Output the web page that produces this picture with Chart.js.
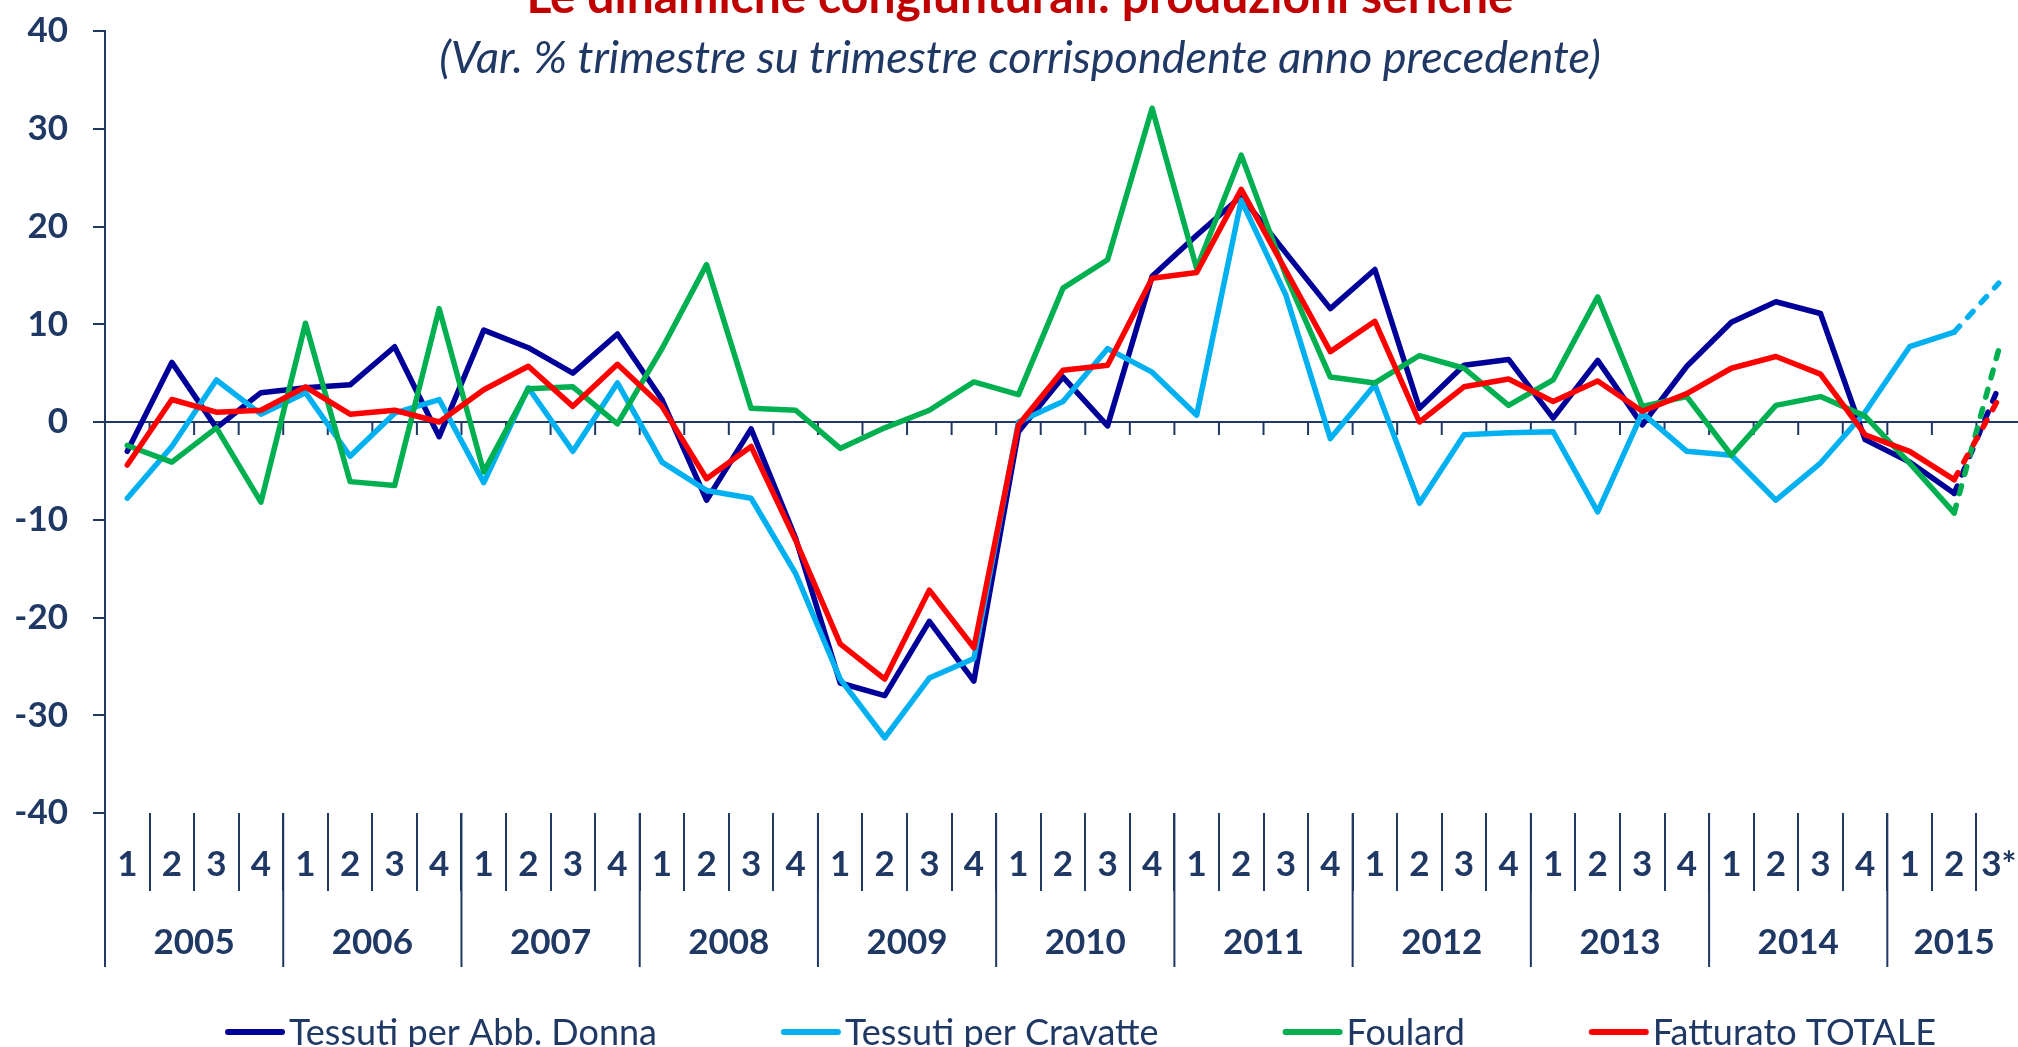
<!DOCTYPE html>
<html>
<head>
<meta charset="utf-8">
<script src="https://cdn.jsdelivr.net/npm/chart.js@4.4.1/dist/chart.umd.min.js"></script>
<style>
  html, body { margin: 0; padding: 0; background: #fff; overflow: hidden; }
  #wrap { position: absolute; left: 0; top: 0; width: 2030px; height: 1070px; }
</style>
</head>
<body>
<div id="wrap"><canvas id="chart" width="2030" height="1070"></canvas></div>
<script>
// quarters 2005 Q1 .. 2015 Q3 (last one is an estimate, marked *)
const quarters = [
  "1","2","3","4", "1","2","3","4", "1","2","3","4", "1","2","3","4",
  "1","2","3","4", "1","2","3","4", "1","2","3","4", "1","2","3","4",
  "1","2","3","4", "1","2","3","4", "1","2","3*"
];
const years = ["2005","2006","2007","2008","2009","2010","2011","2012","2013","2014","2015"];

const abbDonna = [
  -3.0, 6.1, -0.6, 3.0,   3.5, 3.8, 7.7, -1.5,   9.4, 7.6, 5.0, 9.0,
  2.3, -8.0, -0.7, -11.9, -26.7, -28.0, -20.4, -26.5, -1.0, 4.6, -0.4, 14.9,
  19.1, 23.1, 17.3, 11.6, 15.6, 1.4, 5.8, 6.4,   0.4, 6.3, -0.3, 5.7,
  10.2, 12.3, 11.1, -1.8, -4.1, -7.3, 3.6
];
const cravatte = [
  -7.8, -2.5, 4.3, 0.8,   3.0, -3.5, 0.9, 2.3,   -6.2, 3.5, -3.0, 4.0,
  -4.1, -7.0, -7.8, -15.5, -26.3, -32.3, -26.2, -24.2, 0.0, 2.1, 7.5, 5.1,
  0.7, 22.7, 13.0, -1.7,  3.8, -8.3, -1.3, -1.1,  -1.0, -9.2, 0.9, -3.0,
  -3.4, -8.0, -4.2, 1.0,  7.7, 9.2, 14.2
];
const foulard = [
  -2.4, -4.1, -0.6, -8.2,  10.1, -6.1, -6.5, 11.6,  -5.1, 3.4, 3.6, -0.2,
  7.5, 16.1, 1.4, 1.2,    -2.7, -0.6, 1.2, 4.1,    2.8, 13.7, 16.6, 32.1,
  15.7, 27.3, 15.0, 4.6,  4.0, 6.8, 5.5, 1.7,      4.3, 12.8, 1.6, 2.6,
  -3.4, 1.7, 2.6, 0.6,    -4.2, -9.3, 7.4
];
const fatturato = [
  -4.4, 2.3, 1.0, 1.2,    3.6, 0.8, 1.2, 0.0,     3.3, 5.7, 1.6, 5.9,
  1.6, -5.8, -2.5, -12.1, -22.7, -26.3, -17.2, -23.1, -0.3, 5.3, 5.8, 14.7,
  15.3, 23.8, 15.5, 7.2,  10.3, 0.0, 3.6, 4.4,     2.1, 4.2, 1.1, 2.9,
  5.5, 6.7, 4.9, -1.3,    -3.0, -5.9, 2.4
];

const navyText = "#1F3864";
const lastIdx = quarters.length - 1;

// last segment (estimate) is dashed
const dashLast = ctx => ctx.p1DataIndex === lastIdx ? [8, 12] : undefined;

function lineDs(label, data, color, order) {
  return {
    label, data, order,
    borderColor: color,
    backgroundColor: color,
    borderWidth: 5.5,
    borderCapStyle: "round",
    borderJoinStyle: "round",
    pointRadius: 0,
    tension: 0,
    segment: { borderDash: dashLast }
  };
}

// title, subtitle, zero-line ticks, year row and legend
const decor = {
  id: "decor",
  beforeDatasetsDraw(chart) {
    const { ctx, scales: { x, y } } = chart;
    const step = x.getPixelForValue(1) - x.getPixelForValue(0);
    const edge = i => x.getPixelForValue(0) - step / 2 + i * step;
    const y0 = y.getPixelForValue(0);
    ctx.save();
    ctx.strokeStyle = navyText;
    ctx.lineWidth = 2;
    ctx.beginPath();
    for (let i = 0; i <= quarters.length; i++) {
      ctx.moveTo(edge(i), y0);
      ctx.lineTo(edge(i), y0 + 13);
    }
    ctx.stroke();
    ctx.restore();
  },
  afterDraw(chart) {
    const { ctx, chartArea, scales: { x } } = chart;
    const step = x.getPixelForValue(1) - x.getPixelForValue(0);
    const edge = i => x.getPixelForValue(0) - step / 2 + i * step;

    ctx.save();
    // year separators + labels
    const starts = [];
    quarters.forEach((q, i) => { if (q === "1") starts.push(i); });
    starts.push(quarters.length);
    ctx.strokeStyle = navyText;
    ctx.lineWidth = 2;
    ctx.beginPath();
    starts.forEach(i => {
      ctx.moveTo(edge(i), chartArea.bottom);
      ctx.lineTo(edge(i), chartArea.bottom + 154);
    });
    ctx.stroke();
    ctx.fillStyle = navyText;
    ctx.font = "bold 35px Lato";
    ctx.textAlign = "center";
    ctx.textBaseline = "alphabetic";
    years.forEach((yr, k) => {
      const cx = (edge(starts[k]) + edge(starts[k + 1])) / 2;
      ctx.fillText(yr, cx, chartArea.bottom + 141);
    });

    // title (cut at the top of the page) and subtitle
    ctx.fillStyle = "#C00000";
    ctx.font = "bold 48px Lato";
    ctx.fillText("Le dinamiche congiunturali: produzioni seriche", 1020, 13);
    ctx.fillStyle = navyText;
    ctx.font = "italic 45px Lato";
    ctx.fillText("(Var. % trimestre su trimestre corrispondente anno precedente)", 1020, 73);

    // legend
    ctx.font = "36px Lato";
    ctx.textAlign = "left";
    let lx = 225;
    const ly = 1032;
    chart.data.datasets.forEach(ds => {
      ctx.strokeStyle = ds.borderColor;
      ctx.lineWidth = 6;
      ctx.lineCap = "round";
      ctx.beginPath();
      ctx.moveTo(lx + 3, ly);
      ctx.lineTo(lx + 57, ly);
      ctx.stroke();
      ctx.fillStyle = navyText;
      ctx.fillText(ds.label, lx + 64, ly + 13);
      lx += 64 + ctx.measureText(ds.label).width + 124;
    });
    ctx.restore();
  }
};

Chart.defaults.font.family = "Lato";

new Chart(document.getElementById("chart"), {
  type: "line",
  data: {
    labels: quarters,
    datasets: [
      lineDs("Tessuti per Abb. Donna", abbDonna, "#000099", 4),
      lineDs("Tessuti per Cravatte", cravatte, "#00B0F0", 3),
      lineDs("Foulard", foulard, "#00B050", 2),
      lineDs("Fatturato TOTALE", fatturato, "#FF0000", 1)
    ]
  },
  options: {
    responsive: false,
    animation: false,
    layout: { padding: { left: 0, right: 9, top: 31, bottom: 97 } },
    plugins: {
      legend: { display: false },
      title: { display: false },
      tooltip: { enabled: false }
    },
    scales: {
      x: {
        type: "category",
        offset: true,
        border: { display: false },
        grid: {
          offset: true,
          drawOnChartArea: false,
          drawTicks: true,
          tickLength: 78,
          color: navyText,
          lineWidth: 2
        },
        ticks: {
          color: navyText,
          font: { size: 35, weight: "bold" },
          padding: -47,
          maxRotation: 0,
          autoSkip: false
        },
        afterFit: s => { s.height = 160; }
      },
      y: {
        min: -40,
        max: 40,
        border: { color: navyText, width: 2 },
        grid: {
          color: c => c.tick.value === 0 ? navyText : "transparent",
          tickColor: navyText,
          tickLength: 12,
          lineWidth: 2
        },
        ticks: {
          stepSize: 10,
          color: navyText,
          font: { size: 35, weight: "bold" },
          padding: 25
        },
        afterFit: s => {
          s.width = 105;
          s.paddingTop = 0;
          s.paddingBottom = 0;
        }
      }
    }
  },
  plugins: [decor]
});
</script>
</body>
</html>
